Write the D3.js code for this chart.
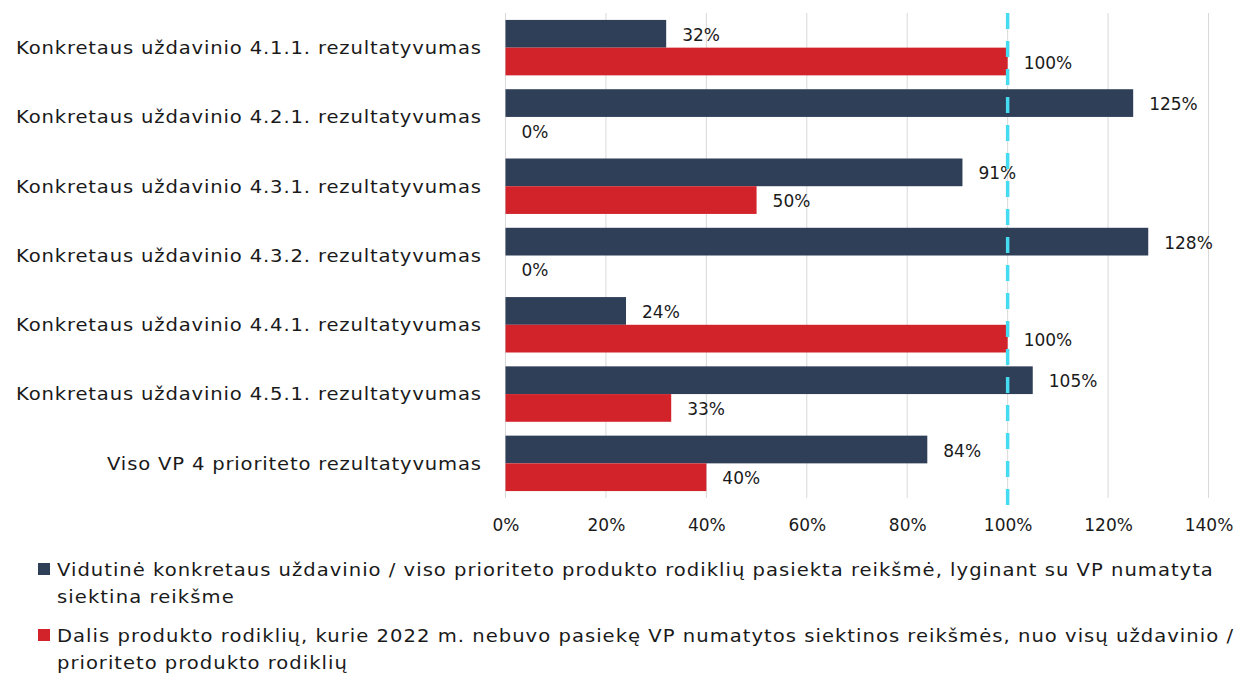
<!DOCTYPE html>
<html><head><meta charset="utf-8">
<script src="https://cdn.jsdelivr.net/npm/d3@7"></script>
<style>body{margin:0;background:#fff;} svg{display:block;font-family:"DejaVu Sans",sans-serif;}</style>
</head><body>
<svg id="chart" width="1236" height="675"></svg>
<script>
const categories = [
  "Konkretaus uždavinio 4.1.1. rezultatyvumas",
  "Konkretaus uždavinio 4.2.1. rezultatyvumas",
  "Konkretaus uždavinio 4.3.1. rezultatyvumas",
  "Konkretaus uždavinio 4.3.2. rezultatyvumas",
  "Konkretaus uždavinio 4.4.1. rezultatyvumas",
  "Konkretaus uždavinio 4.5.1. rezultatyvumas",
  "Viso VP 4 prioriteto rezultatyvumas"
];
const avgValues = [32, 125, 91, 128, 24, 105, 84];
const shareValues = [100, 0, 50, 0, 100, 33, 40];
const xTicks = [0, 20, 40, 60, 80, 100, 120, 140];
const targetLine = 100;
const seriesNames = ["avg", "share"];
const legendLines = [
  ["Vidutinė konkretaus uždavinio / viso prioriteto produkto rodiklių pasiekta reikšmė, lyginant su VP numatyta", "siektina reikšme"],
  ["Dalis produkto rodiklių, kurie 2022 m. nebuvo pasiekę VP numatytos siektinos reikšmės, nuo visų uždavinio /", "prioriteto produkto rodiklių"]
];
const colors = {avg: "#2f3f58", share: "#d2232a"};

const svg = d3.select("#chart");
const x = d3.scaleLinear().domain([0, 140]).range([505.5, 1208.5]);
const y = d3.scaleBand().domain(categories).range([13, 498]).paddingInner(0.2).paddingOuter(0.1);
const ySub = d3.scaleBand().domain(seriesNames).range([0, y.bandwidth()]);

// widen text: horizontal glyph stretch + extra letter spacing, about its anchor x
function widen(sel, total, stretch) {
  sel.each(function() {
    const t = d3.select(this);
    const w = this.getComputedTextLength();
    const ax = +t.attr("x");
    t.attr("textLength", w * total / stretch).attr("lengthAdjust", "spacing")
     .attr("transform", `translate(${ax},0) scale(${stretch},1) translate(${-ax},0)`);
  });
}

// gridlines
svg.append("g").selectAll("line").data(xTicks).join("line")
  .attr("x1", d => x(d)).attr("x2", d => x(d))
  .attr("y1", 13).attr("y2", 498)
  .attr("stroke", "#d9d9d9").attr("stroke-width", 1);

const data = categories.map((c, i) => ({cat: c, avg: avgValues[i], share: shareValues[i]}));
const groups = svg.append("g").selectAll("g").data(data).join("g")
  .attr("transform", d => `translate(0,${y(d.cat)})`);

seriesNames.forEach(s => {
  groups.append("rect")
    .attr("x", x(0))
    .attr("y", ySub(s))
    .attr("width", d => x(d[s]) - x(0))
    .attr("height", ySub.bandwidth())
    .attr("fill", colors[s]);
  groups.append("text")
    .attr("x", d => x(d[s]) + 16)
    .attr("y", ySub(s) + ySub.bandwidth() / 2 + 1)
    .attr("dy", "0.36em")
    .attr("font-size", 17)
    .attr("fill", "#1a1a1a")
    .text(d => d[s] + "%");
});

// dashed target line
svg.append("line")
  .attr("x1", x(targetLine)).attr("x2", x(targetLine))
  .attr("y1", 13).attr("y2", 506)
  .attr("stroke", "#45dcf2").attr("stroke-width", 3.5)
  .attr("stroke-dasharray", "16,12");

// category labels
svg.append("g").selectAll("text").data(categories).join("text")
  .attr("x", 481)
  .attr("y", d => y(d) + y.bandwidth() / 2)
  .attr("dy", "0.36em")
  .attr("text-anchor", "end")
  .attr("font-size", 17.5)
  .attr("fill", "#1a1a1a")
  .text(d => d)
  .call(widen, 1.245 * 17 / 17.5, 1.12);

// x axis labels
const xAxis = d3.axisBottom(x).tickValues(xTicks).tickFormat(d => d + "%").tickSize(0).tickPadding(0);
const ax = svg.append("g").attr("transform", "translate(0,519)").call(xAxis);
ax.select(".domain").remove();
ax.selectAll("text").attr("font-size", 17).attr("fill", "#1a1a1a").attr("font-family", "DejaVu Sans, sans-serif");

// legend
const legendY = [570, 636];
const lg = svg.append("g");
seriesNames.forEach((s, i) => {
  lg.append("rect").attr("x", 38).attr("y", legendY[i] - 7).attr("width", 12).attr("height", 12).attr("fill", colors[s]);
  legendLines[i].forEach((line, j) => {
    lg.append("text")
      .attr("x", 57).attr("y", legendY[i] + j * 27)
      .attr("dy", "0.36em")
      .attr("font-size", 17.5)
      .attr("fill", "#1a1a1a")
      .text(line)
      .call(widen, 1.232, 1.12);
  });
});
</script>
</body></html>
